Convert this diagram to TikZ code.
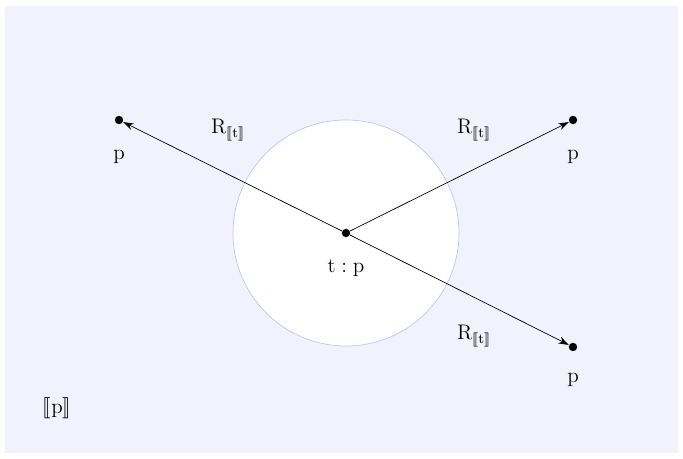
\documentclass[tikz,border=0pt]{standalone}
\usepackage{stmaryrd}
\usetikzlibrary{arrows.meta}
\definecolor{kback}{RGB}{242,242,255}
\definecolor{kring}{RGB}{195,195,245}

\begin{document}
\begin{tikzpicture}[x=0.02cm,y=-0.02cm,>={Stealth[length=6pt,width=4pt]},font=\large]
\tikzstyle{dot}=[circle, fill=black, inner sep=0pt, minimum size=4.8pt]
\tikzstyle{lbl}=[inner sep=1pt]

\useasboundingbox (0,0) rectangle (683,459);
\fill[kback] (5,6) rectangle (678,453);
\draw[kring, fill=white, thin] (346,233) circle[radius=113];

\node[dot] (t) at (346,233) {};
\node[dot] (pl) at (119,120) {};
\node[dot] (pr) at (573,120) {};
\node[dot] (pb) at (573,347) {};

\node[lbl] (tlab) at (346,268) {$\mathrm{t}:\mathrm{p}$};
\node[lbl] (pllab) at (119,157) {$\mathrm{p}$};
\node[lbl] (prlab) at (573,157) {$\mathrm{p}$};
\node[lbl] (pblab) at (573,380) {$\mathrm{p}$};
\node[lbl] (rl) at (228,130) {$\mathrm{R}_{\llbracket \mathrm{t}\rrbracket}$};
\node[lbl] (rr) at (474,130) {$\mathrm{R}_{\llbracket \mathrm{t}\rrbracket}$};
\node[lbl] (rb) at (474,336) {$\mathrm{R}_{\llbracket \mathrm{t}\rrbracket}$};
\node[lbl] (world) at (57,408) {$\llbracket \mathrm{p}\rrbracket$};

\draw[->] (t) -- (pl);
\draw[->] (t) -- (pr);
\draw[->] (t) -- (pb);
\end{tikzpicture}
\end{document}
